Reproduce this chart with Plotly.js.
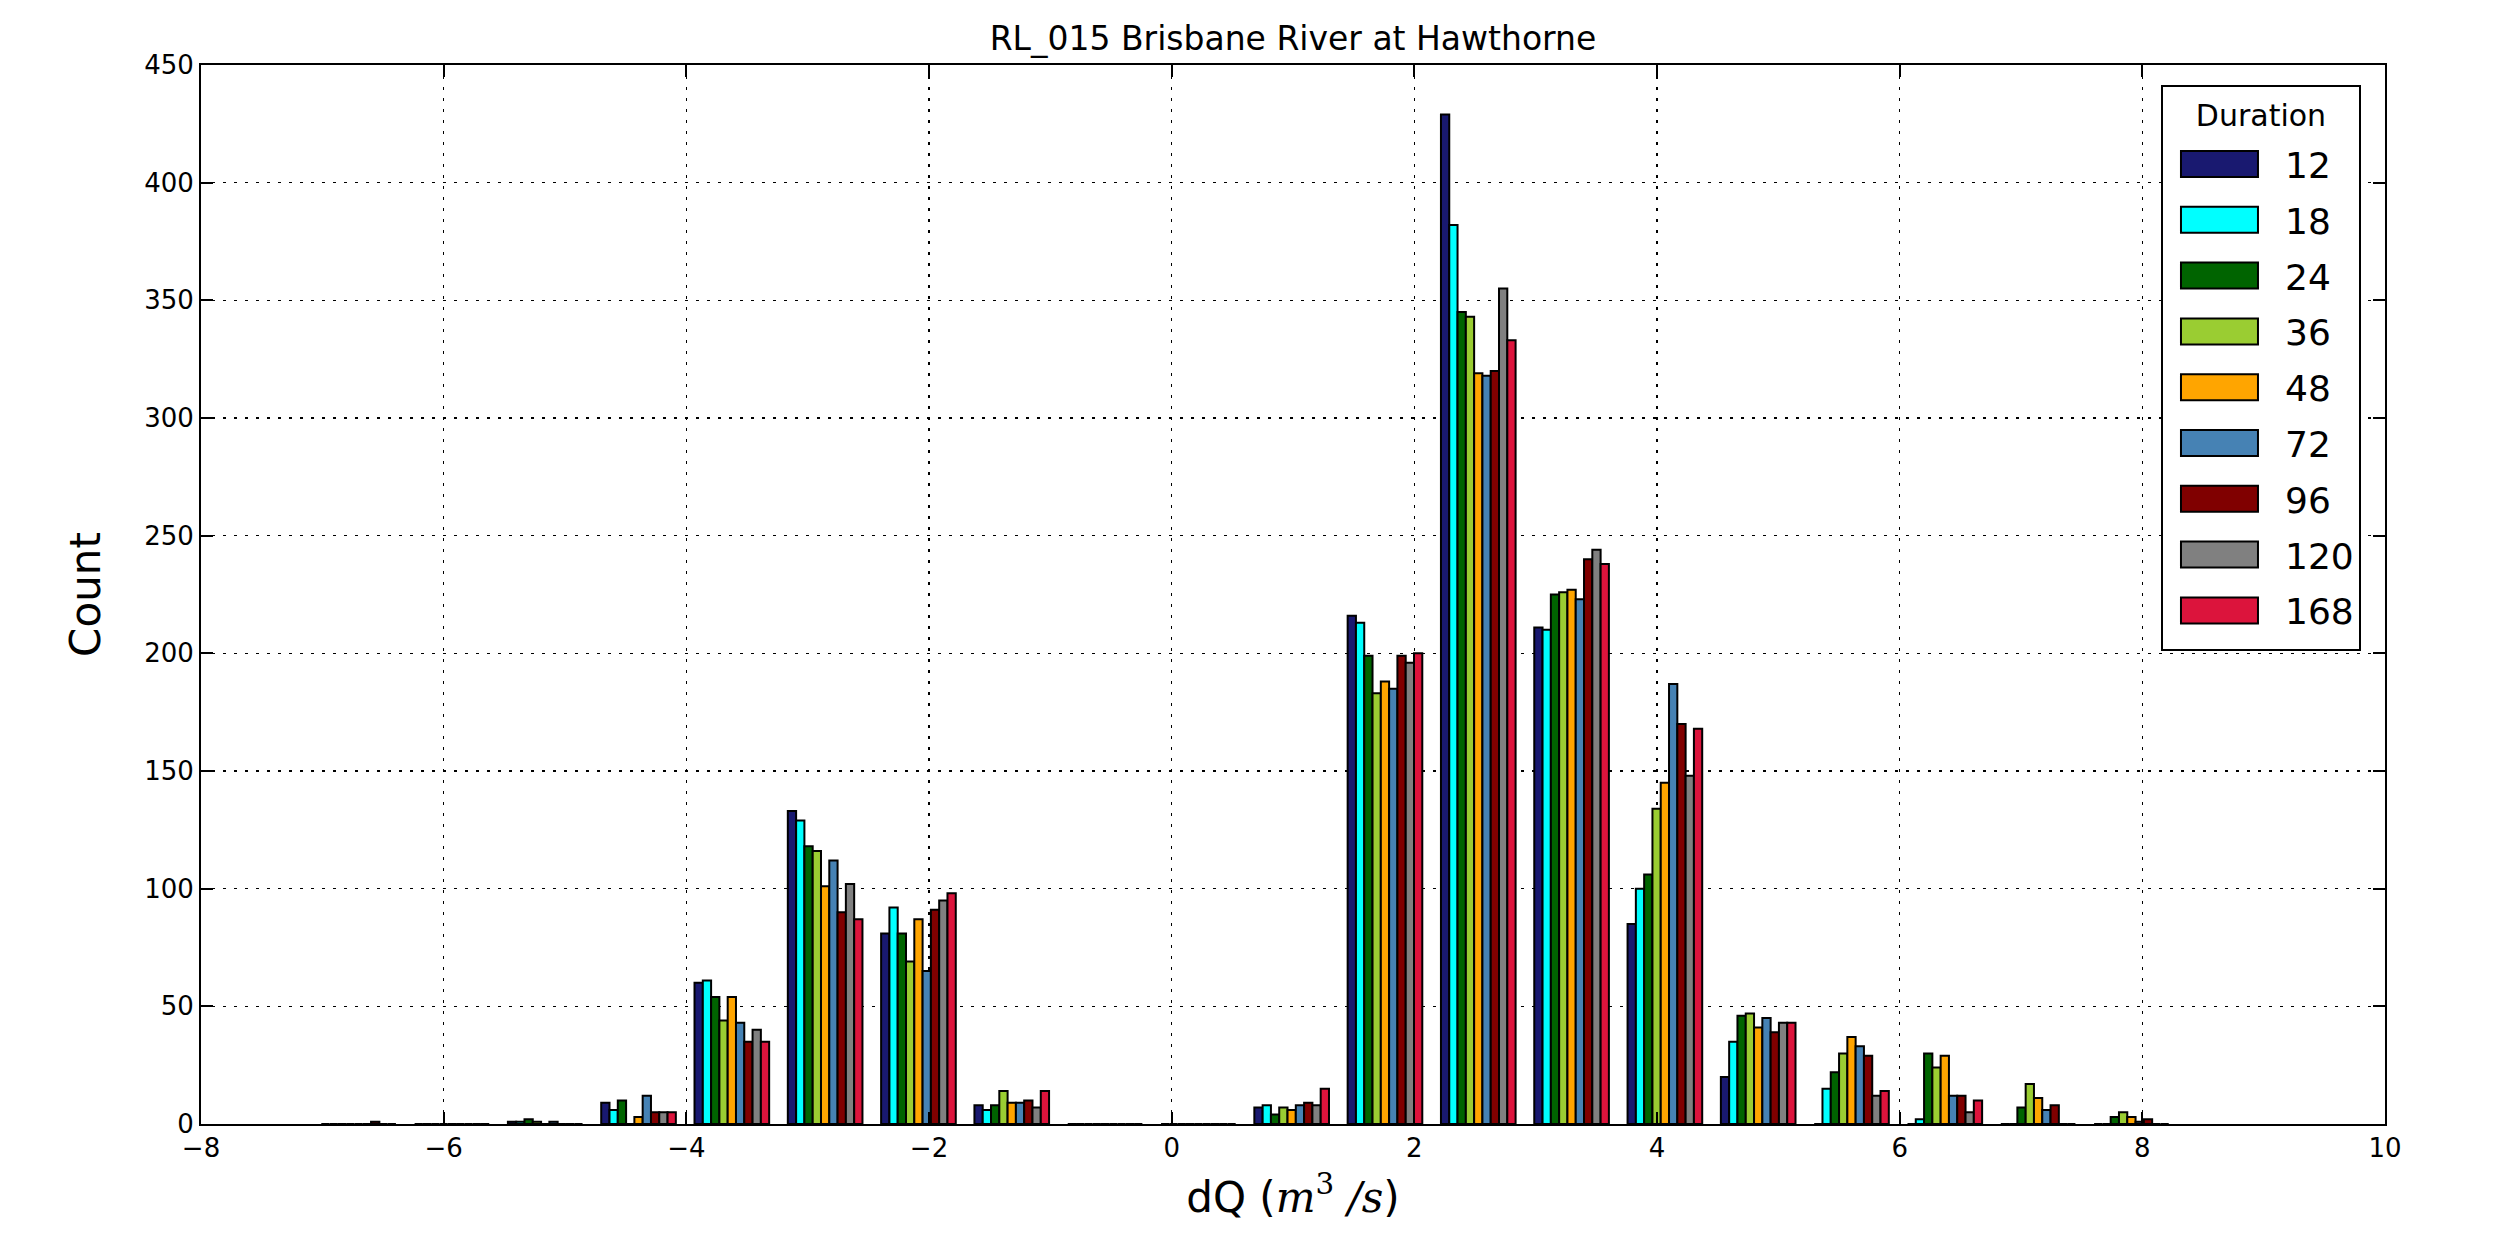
<!DOCTYPE html>
<html>
<head>
<meta charset="utf-8">
<script src="https://cdn.plot.ly/plotly-3.0.1.min.js"></script>
<style>
  html, body { margin: 0; padding: 0; background: #fff; }
  #chart { width: 2500px; height: 1255px; }
</style>
</head>
<body>
<div id="chart"></div>
<script>
// Bin centres (dQ, m^3/s)
const binCenters = [-6.701, -5.932, -5.163, -4.394, -3.625, -2.856, -2.087, -1.318, -0.549, 0.220,
                    0.989, 1.758, 2.527, 3.296, 4.065, 4.834, 5.603, 6.372, 7.141, 7.910];

// Counts per duration (hours)
const durations = ["12", "18", "24", "36", "48", "72", "96", "120", "168"];
const count12  = [0, 0, 1,  9, 60, 133, 81,  8, 0, 0,  7, 216, 429, 211,  85, 20,  0,  0,  0, 0];
const count18  = [0, 0, 1,  6, 61, 129, 92,  6, 0, 0,  8, 213, 382, 210, 100, 35, 15,  2,  0, 0];
const count24  = [0, 0, 2, 10, 54, 118, 81,  8, 0, 0,  4, 199, 345, 225, 106, 46, 22, 30,  7, 3];
const count36  = [0, 0, 1,  0, 44, 116, 69, 14, 0, 0,  7, 183, 343, 226, 134, 47, 30, 24, 17, 5];
const count48  = [0, 0, 0,  3, 54, 101, 87,  9, 0, 0,  6, 188, 319, 227, 145, 41, 37, 29, 11, 3];
const count72  = [0, 0, 1, 12, 43, 112, 65,  9, 0, 0,  8, 185, 318, 223, 187, 45, 33, 12,  6, 1];
const count96  = [1, 0, 0,  5, 35,  90, 91, 10, 0, 0,  9, 199, 320, 240, 170, 39, 29, 12,  8, 2];
const count120 = [0, 0, 0,  5, 40, 102, 95,  7, 0, 0,  8, 196, 355, 244, 148, 43, 12,  5,  0, 0];
const count168 = [0, 0, 0,  5, 35,  87, 98, 14, 0, 0, 15, 200, 333, 238, 168, 43, 14, 10,  0, 0];

const allCounts = [count12, count18, count24, count36, count48, count72, count96, count120, count168];
const colors = ["#191970", "#00FFFF", "#006400", "#9ACD32", "#FFA500", "#4682B4", "#800000", "#808080", "#DC143C"];

const xTicks = [-8, -6, -4, -2, 0, 2, 4, 6, 8, 10];
const yTicks = [0, 50, 100, 150, 200, 250, 300, 350, 400, 450];

const FONT = "DejaVu Sans, Bitstream Vera Sans, sans-serif";

const traces = durations.map((d, i) => ({
  type: "bar",
  name: d,
  x: binCenters,
  y: allCounts[i],
  marker: { color: colors[i], line: { color: "#000", width: 2 } },
  hoverinfo: "x+y+name"
}));

const gridDash = "3px,8px";

const layout = {
  width: 2500,
  height: 1255,
  paper_bgcolor: "#fff",
  plot_bgcolor: "#fff",
  margin: { l: 201, r: 115, t: 65, b: 131, pad: 0 },
  font: { family: FONT, color: "#000", size: 26 },
  title: {
    text: "RL_015 Brisbane River at Hawthorne",
    font: { family: FONT, size: 33, color: "#000" },
    x: 0.5, xref: "paper", xanchor: "center",
    y: 1 - 38 / 1255, yref: "container", yanchor: "middle"
  },
  barmode: "group",
  bargap: 0.2,
  bargroupgap: 0,
  showlegend: true,
  legend: {
    x: 0.989, xanchor: "right",
    y: 0.981, yanchor: "top",
    bgcolor: "#fff",
    bordercolor: "#000",
    borderwidth: 2,
    font: { family: FONT, size: 36, color: "#000" },
    title: { text: "Duration", side: "top center", font: { family: FONT, size: 30, color: "#000" } },
    itemwidth: 112,
    traceorder: "normal",
    itemclick: false,
    itemdoubleclick: false
  },
  xaxis: {
    range: [-8, 10],
    tickmode: "array",
    tickvals: xTicks,
    ticktext: xTicks.map(v => (v < 0 ? "\u2212" + Math.abs(v) : String(v))),
    ticks: "inside",
    ticklen: 12,
    tickwidth: 2,
    tickcolor: "#000",
    tickfont: { family: FONT, size: 26, color: "#000" },
    showline: true,
    linecolor: "#000",
    linewidth: 2,
    mirror: "ticks",
    showgrid: true,
    gridcolor: "#000",
    gridwidth: 1.5,
    griddash: gridDash,
    zeroline: false,
    title: {
      text: "dQ (<span style=\"font-family:'DejaVu Serif'\"><i>m</i><sup>3</sup> <i>/s</i></span>)",
      font: { family: FONT, size: 42, color: "#000" },
      standoff: 20
    }
  },
  yaxis: {
    range: [0, 450],
    tickmode: "array",
    tickvals: yTicks,
    ticks: "inside",
    ticklen: 12,
    tickwidth: 2,
    tickcolor: "#000",
    tickfont: { family: FONT, size: 26, color: "#000" },
    showline: true,
    linecolor: "#000",
    linewidth: 2,
    mirror: "ticks",
    showgrid: true,
    gridcolor: "#000",
    gridwidth: 1.5,
    griddash: gridDash,
    zeroline: false,
    title: {
      text: "Count",
      font: { family: FONT, size: 42, color: "#000" },
      standoff: 30
    }
  }
};

// Legend styling to resemble the matplotlib legend: wide swatches, looser rows
const LEG_FIRST_SHIFT = 8;    // extra px before first entry
const LEG_ROW_EXTRA = 6;      // extra px between entries
const LEG_BOTTOM_EXTRA = 8;   // extra px below last entry

function fixLegend(gd) {
  const leg = gd.querySelector(".legend");
  if (!leg || leg.getAttribute("data-fixed") === "1") return;
  leg.setAttribute("data-fixed", "1");
  leg.querySelectorAll(".legendpoints path").forEach(p => {
    p.setAttribute("d", "M-43,-13H34V13H-43Z");
  });
  const items = leg.querySelectorAll(".traces");
  items.forEach((el, i) => {
    const t = el.getAttribute("transform") || "";
    const m = t.match(/translate\(\s*([-\d.e]+)[\s,]+([-\d.e]+)\s*\)/);
    if (m) {
      const ny = parseFloat(m[2]) + LEG_FIRST_SHIFT + i * LEG_ROW_EXTRA;
      el.setAttribute("transform", "translate(" + m[1] + "," + ny + ")");
    }
  });
  const bg = leg.querySelector("rect.bg");
  if (bg) {
    const h = parseFloat(bg.getAttribute("height"));
    bg.setAttribute("height", h + LEG_FIRST_SHIFT + (items.length - 1) * LEG_ROW_EXTRA + LEG_BOTTOM_EXTRA);
  }
  leg.querySelectorAll("[clip-path]").forEach(e => e.removeAttribute("clip-path"));
}

const gd = document.getElementById("chart");
Plotly.newPlot(gd, traces, layout, { displayModeBar: false, staticPlot: true }).then(() => {
  fixLegend(gd);
});
</script>
</body>
</html>
